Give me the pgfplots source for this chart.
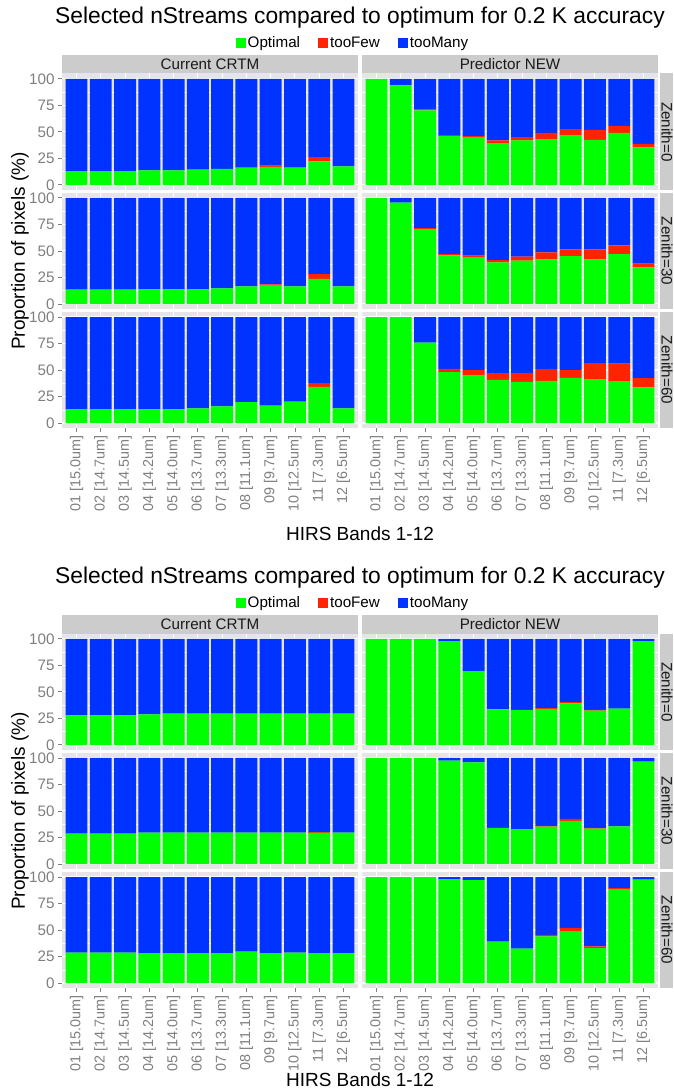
\documentclass[border=0pt]{standalone}
\usepackage{fontspec}
\setmainfont{Liberation Sans}
\usepackage{pgfplots}
\usepackage{pgfplotstable}
\pgfplotsset{compat=1.18}
\definecolor{cg}{HTML}{00FF00}
\definecolor{cr}{HTML}{FF2400}
\definecolor{cb}{HTML}{0033FF}
\definecolor{panelbg}{HTML}{E5E5E5}
\definecolor{stripbg}{HTML}{CCCCCC}
\definecolor{tickgrey}{HTML}{7F7F7F}
\definecolor{striptext}{HTML}{1A1A1A}
\newcommand\tickfont{\fontsize{15.2}{18}\selectfont}
\newcommand\xtickfont{\fontsize{14.4}{17}\selectfont}

% ---------------- Figure A (top) ----------------
\pgfplotstableread{
x g r t
1 13 0 87
2 13 0 87
3 13 0 87
4 13.5 0 86.5
5 13.5 0 86.5
6 14.2 0 85.8
7 15 0 85
8 15.8 0.7 83.5
9 16.8 1.2 82
10 16.1 0 83.9
11 22 4 74
12 17.4 0 82.6
}\ACz
\pgfplotstableread{
x g r t
1 100 0 0
2 93.7 0 6.3
3 70.3 0.7 29
4 45.9 0.9 53.2
5 44.6 1.3 54.1
6 39.2 2.8 58
7 42 3 55
8 43 6 51
9 46.8 5.7 47.5
10 42.4 9.5 48.1
11 49 6.7 44.3
12 35.4 3.2 61.4
}\APz
\pgfplotstableread{
x g r t
1 13.5 0 86.5
2 13.5 0 86.5
3 13.5 0 86.5
4 13.8 0 86.2
5 13.8 0 86.2
6 13.8 0 86.2
7 14.7 0 85.3
8 16.6 0 83.4
9 17.2 1.3 81.5
10 16.6 0 83.4
11 23.5 4.7 71.8
12 16.6 0 83.4
}\ACt
\pgfplotstableread{
x g r t
1 100 0 0
2 95.6 0 4.4
3 70.5 1 28.5
4 45.8 1.5 52.7
5 43.6 1.9 54.5
6 39.2 2.2 58.6
7 40.8 3.7 55.5
8 42 6.6 51.4
9 45.1 6.3 48.6
10 42 9.4 48.6
11 47 8.2 44.8
12 34.5 3.5 62
}\APt
\pgfplotstableread{
x g r t
1 13.2 0 86.8
2 13.2 0 86.8
3 13.2 0 86.8
4 12.9 0 87.1
5 12.9 0 87.1
6 13.8 0 86.2
7 15.7 0 84.3
8 19.7 0 80.3
9 16.3 0 83.7
10 19.7 0.7 79.6
11 34.2 3.4 62.4
12 13.8 0 86.2
}\ACs
\pgfplotstableread{
x g r t
1 100 0 0
2 100 0 0
3 75.9 0 24.1
4 48 3 49
5 45.1 4.7 50.2
6 40.8 6.2 53
7 38.9 8.4 52.7
8 39.8 11 49.2
9 42.6 7.2 50.2
10 41.4 15 43.6
11 39.5 16.6 43.9
12 33.5 8.8 57.7
}\APs
% ---------------- Figure B (bottom) ----------------
\pgfplotstableread{
x g r t
1 27.8 0 72.2
2 27.8 0 72.2
3 27.8 0 72.2
4 28.8 0 71.2
5 29.4 0 70.6
6 29.4 0 70.6
7 29.4 0 70.6
8 29.4 0 70.6
9 29.4 0 70.6
10 29.4 0 70.6
11 29.4 0 70.6
12 29.4 0 70.6
}\BCz
\pgfplotstableread{
x g r t
1 100 0 0
2 100 0 0
3 100 0 0
4 97.8 0 2.2
5 69.6 0 30.4
6 33.5 0 66.5
7 32.9 0 67.1
8 33.9 0.6 65.5
9 39 1.3 59.7
10 32.3 0.6 67.1
11 34.2 0 65.8
12 97.8 0 2.2
}\BPz
\pgfplotstableread{
x g r t
1 28.6 0 71.4
2 28.6 0 71.4
3 28.6 0 71.4
4 29.6 0 70.4
5 29.6 0 70.4
6 29.6 0 70.4
7 29.6 0 70.4
8 29.6 0 70.4
9 29.6 0 70.4
10 29.6 0 70.4
11 29.6 0.4 70
12 29.6 0 70.4
}\BCt
\pgfplotstableread{
x g r t
1 100 0 0
2 100 0 0
3 100 0 0
4 97.5 0 2.5
5 95.9 0 4.1
6 33.9 0 66.1
7 32.9 0 67.1
8 35.1 0.7 64.2
9 40.5 1.9 57.6
10 33.2 0.7 66.1
11 35.4 0 64.6
12 96.5 0 3.5
}\BPt
\pgfplotstableread{
x g r t
1 28.6 0 71.4
2 28.6 0 71.4
3 28.6 0 71.4
4 28.3 0 71.7
5 28.3 0 71.7
6 28.3 0 71.7
7 28.3 0 71.7
8 29.5 0 70.5
9 28.3 0 71.7
10 28.6 0 71.4
11 28.3 0 71.7
12 28.3 0 71.7
}\BCs
\pgfplotstableread{
x g r t
1 100 0 0
2 100 0 0
3 100 0 0
4 98 0 2
5 97 0 3
6 39 0 61
7 32.5 0 67.5
8 44 1.5 54.5
9 48.5 3.5 48
10 33 1.5 65.5
11 88 1.5 10.5
12 97.5 0 2.5
}\BPs

\pgfplotsset{
 facet/.style={
  scale only axis, width=296pt, height=116.6pt, anchor=north west,
  xmin=0.4, xmax=12.6, ymin=-5, ymax=105,
  axis background/.style={fill=panelbg},
  axis line style={draw=none},
  xtick={1,...,12}, ytick={0,25,50,75,100},
  minor ytick={12.5,37.5,62.5,87.5},
  xmajorgrids, ymajorgrids, yminorgrids,
  major grid style={white, line width=1.1pt},
  minor grid style={white, line width=0.5pt},
  tick align=outside, xtick pos=bottom, ytick pos=left,
  major tick length=4pt, minor tick length=0pt,
  tick style={tickgrey, line width=0.8pt},
  ybar stacked, bar width=0.9,
  /pgf/number format/assume math mode=true,
  ticklabel style={font=\tickfont, text=tickgrey},
 },
 rc/.style={yticklabels={}, ytick style={draw=none}},
 nb/.style={xticklabels={}, xtick style={draw=none}},
 bt/.style={xticklabels={{01 [15.0um]},{02 [14.7um]},{03 [14.5um]},{04 [14.2um]},{05 [14.0um]},{06 [13.7um]},{07 [13.3um]},{08 [11.1um]},{09 [9.7um]},{10 [12.5um]},{11 [7.3um]},{12 [6.5um]}},
   xticklabel style={rotate=90, anchor=east, font=\xtickfont, text=tickgrey}},
 leg/.style={legend entries={Optimal,tooFew,tooMany},
   legend style={at={(0.983,1.2616)}, anchor=center, legend columns=3, draw=none, fill=none,
     font=\tickfont, /tikz/every even column/.append style={column sep=16pt}},
   legend image code/.code={\fill[##1] (0pt,-5pt) rectangle (10pt,5pt);}},
}

\newcommand{\facet}[4]{%
\begin{axis}[facet, at={(#1pt,-#2pt)}, #4]
\addplot[fill=cg, draw=none] table[x=x,y=g]{#3};
\addplot[fill=cr, draw=none] table[x=x,y=r]{#3};
\addplot[fill=cb, draw=none] table[x=x,y=t]{#3};
\end{axis}}

\newcommand{\decor}[1]{% #1 = vertical offset
 \fill[stripbg] (62pt,{-(55+#1)*1pt}) rectangle (358pt,{-(73.5+#1)*1pt});
 \fill[stripbg] (362pt,{-(55+#1)*1pt}) rectangle (658pt,{-(73.5+#1)*1pt});
 \node[font=\tickfont, text=striptext] at (210pt,{-(64.25+#1)*1pt}) {Current CRTM};
 \node[font=\tickfont, text=striptext] at (510pt,{-(64.25+#1)*1pt}) {Predictor NEW};
 \fill[stripbg] (659.5pt,{-(73.5+#1)*1pt}) rectangle (673pt,{-(190.1+#1)*1pt});
 \fill[stripbg] (659.5pt,{-(192.6+#1)*1pt}) rectangle (673pt,{-(309.2+#1)*1pt});
 \fill[stripbg] (659.5pt,{-(311.7+#1)*1pt}) rectangle (673pt,{-(428.3+#1)*1pt});
 \node[rotate=-90, font=\tickfont, text=striptext] at (667pt,{-(131.8+#1)*1pt}) {Zenith=0};
 \node[rotate=-90, font=\tickfont, text=striptext] at (667pt,{-(250.9+#1)*1pt}) {Zenith=30};
 \node[rotate=-90, font=\tickfont, text=striptext] at (667pt,{-(370.0+#1)*1pt}) {Zenith=60};
 \node[font=\fontsize{22.8}{27}\selectfont] at (360pt,{-(18+#1)*1pt}) {Selected nStreams compared to optimum for 0.2 K accuracy};
 \node[rotate=90, font=\fontsize{19}{23}\selectfont] at (20pt,{-(251+#1)*1pt}) {Proportion of pixels (\%)};
}

\begin{document}
\begin{tikzpicture}
\useasboundingbox (0,0) rectangle (673pt,-1091pt);
\decor{0}
\decor{560}
\node[font=\fontsize{19}{23}\selectfont] at (360pt,-534pt) {HIRS Bands 1-12};
\node[font=\fontsize{19}{23}\selectfont, inner sep=0pt] at (360pt,-1080pt) {HIRS Bands 1-12};
% top figure
\facet{62}{73.5}{\ACz}{nb, leg}
\facet{362}{73.5}{\APz}{nb, rc}
\facet{62}{192.6}{\ACt}{nb}
\facet{362}{192.6}{\APt}{nb, rc}
\facet{62}{311.7}{\ACs}{bt}
\facet{362}{311.7}{\APs}{bt, rc}
% bottom figure
\facet{62}{633.5}{\BCz}{nb, leg}
\facet{362}{633.5}{\BPz}{nb, rc}
\facet{62}{752.6}{\BCt}{nb}
\facet{362}{752.6}{\BPt}{nb, rc}
\facet{62}{871.7}{\BCs}{bt}
\facet{362}{871.7}{\BPs}{bt, rc}
\end{tikzpicture}
\end{document}
